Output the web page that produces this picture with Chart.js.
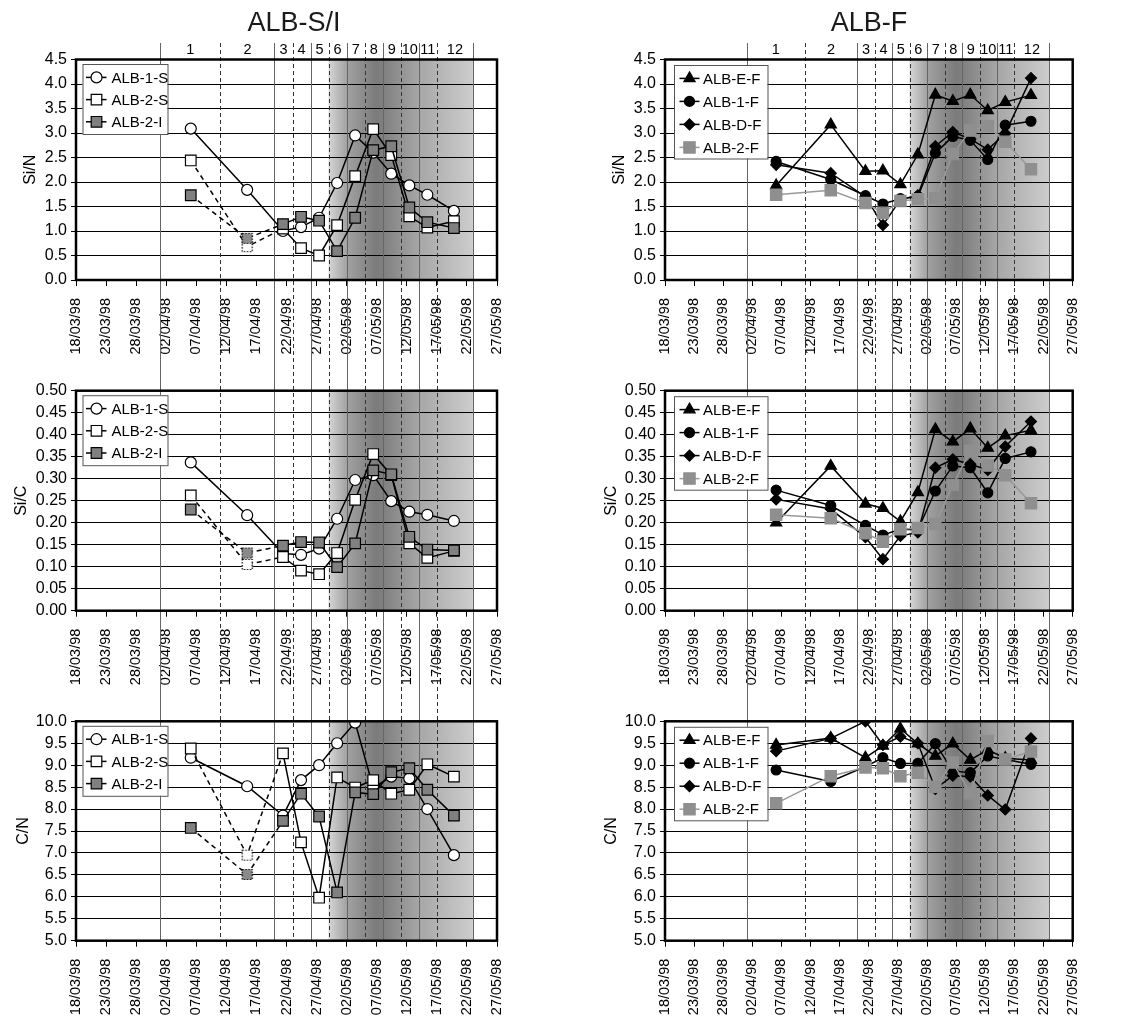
<!DOCTYPE html>
<html>
<head>
<meta charset="utf-8">
<title>ALB ratios</title>
<script src="https://cdn.jsdelivr.net/npm/chart.js@4.4.1/dist/chart.umd.min.js"></script>
<style>
  body { margin: 0; background: #fff; width: 1136px; height: 1023px; position: relative; overflow: hidden; }
  canvas { position: absolute; }
</style>
</head>
<body>
<canvas id="l1" width="560" height="365" style="left:0;top:0"></canvas>
<canvas id="l2" width="560" height="330" style="left:0;top:365px"></canvas>
<canvas id="l3" width="560" height="328" style="left:0;top:695px"></canvas>
<canvas id="r1" width="576" height="365" style="left:560px;top:0"></canvas>
<canvas id="r2" width="576" height="330" style="left:560px;top:365px"></canvas>
<canvas id="r3" width="576" height="328" style="left:560px;top:695px"></canvas>
<script>
// x axis runs from 18/03/98 to 27/05/98, ticks every 5 days
const DAY0 = Date.UTC(1998, 2, 18);
const xSpanDays = 70;
const xStepDays = 5;

// sampling times
const sampleDates = ['1998-04-06T02:00', '1998-04-15T11:00', '1998-04-21T10:00', '1998-04-24T10:00',
    '1998-04-27T10:00', '1998-04-30T10:00', '1998-05-03T10:00', '1998-05-06T10:00',
    '1998-05-09T10:00', '1998-05-12T10:00', '1998-05-15T10:00', '1998-05-19T20:00'];

// limits of the sampling periods (vertical lines) and their numbers
const periodBounds = ['1998-04-01T00:00', '1998-04-11T00:00', '1998-04-20T00:00', '1998-04-23T00:00',
    '1998-04-26T00:00', '1998-04-29T00:00', '1998-05-02T00:00', '1998-05-05T00:00',
    '1998-05-08T00:00', '1998-05-11T00:00', '1998-05-14T00:00', '1998-05-17T00:00', '1998-05-23T00:00'];
const periodLabels = ['1', '2', '3', '4', '5', '6', '7', '8', '9', '10', '11', '12'];

// ALB-S/I
const siN_ALB1S = [3.09, 1.84, 1.00, 1.08, 1.27, 1.98, 2.95, 2.60, 2.17, 1.93, 1.74, 1.41];
const siN_ALB2S = [2.44, 0.68, 1.05, 0.65, 0.50, 1.12, 2.12, 3.08, 2.55, 1.30, 1.07, 1.20];
const siN_ALB2I = [1.73, 0.85, 1.14, 1.29, 1.21, 0.59, 1.27, 2.65, 2.73, 1.48, 1.18, 1.06];

const siC_ALB1S = [0.337, 0.217, 0.130, 0.127, 0.141, 0.209, 0.297, 0.308, 0.249, 0.225, 0.218, 0.204];
const siC_ALB2S = [0.262, 0.105, 0.122, 0.091, 0.083, 0.131, 0.252, 0.356, 0.308, 0.153, 0.120, 0.136];
const siC_ALB2I = [0.230, 0.131, 0.148, 0.156, 0.155, 0.099, 0.153, 0.319, 0.310, 0.168, 0.139, 0.137];

const cN_ALB1S = [9.17, 8.52, 7.85, 8.66, 9.00, 9.50, 9.97, 8.49, 8.74, 8.70, 8.00, 6.95];
const cN_ALB2S = [9.38, 6.95, 9.27, 7.24, 5.98, 8.72, 8.49, 8.66, 8.35, 8.44, 9.02, 8.74];
const cN_ALB2I = [7.57, 6.51, 7.73, 8.35, 7.83, 6.10, 8.38, 8.34, 8.84, 8.93, 8.44, 7.85];

// ALB-F
const siN_ALBEF = [1.93, 3.17, 2.22, 2.23, 1.95, 2.56, 3.78, 3.65, 3.78, 3.46, 3.63, 3.77];
const siN_ALB1F = [2.42, 2.05, 1.72, 1.55, 1.66, 1.70, 2.59, 2.93, 2.85, 2.46, 3.16, 3.24];
const siN_ALBDF = [2.35, 2.18, 1.70, 1.12, 1.64, 1.73, 2.73, 3.02, 2.88, 2.66, 2.99, 4.12];
const siN_ALB2F = [1.74, 1.83, 1.57, 1.37, 1.61, 1.65, 1.67, 2.57, 3.05, 3.14, 2.82, 2.26];

const siC_ALBEF = [0.200, 0.329, 0.243, 0.233, 0.203, 0.269, 0.412, 0.384, 0.414, 0.370, 0.398, 0.410];
const siC_ALB1F = [0.274, 0.239, 0.194, 0.172, 0.185, 0.184, 0.272, 0.329, 0.325, 0.268, 0.346, 0.361];
const siC_ALBDF = [0.253, 0.231, 0.167, 0.117, 0.170, 0.178, 0.325, 0.344, 0.333, 0.320, 0.373, 0.430];
const siC_ALB2F = [0.218, 0.210, 0.176, 0.157, 0.185, 0.188, 0.197, 0.286, 0.363, 0.330, 0.308, 0.244];

const cN_ALBEF = [9.46, 9.62, 9.17, 9.44, 9.83, 9.49, 9.21, 9.49, 9.12, 9.35, 9.16, 9.12];
const cN_ALB1F = [8.89, 8.63, 8.97, 9.17, 9.04, 9.04, 9.49, 8.87, 8.83, 9.21, 9.13, 9.02];
const cN_ALBDF = [9.32, 9.61, 10.00, 9.46, 9.65, 9.50, 8.46, 8.76, 8.74, 8.31, 7.99, 9.61];
const cN_ALB2F = [8.13, 8.75, 8.95, 8.93, 8.75, 8.83, 8.51, 9.06, 8.36, 9.55, 9.13, 9.31];

const FONT = "'Liberation Sans', Arial, sans-serif";
Chart.defaults.font.family = FONT;
Chart.defaults.color = '#000';

function toDay(s) { return (Date.parse(s + 'Z') - DAY0) / 86400000; }
function fmtDate(day) {
    const d = new Date(DAY0 + Math.round(day) * 86400000);
    const dd = String(d.getUTCDate()).padStart(2, '0');
    const mm = String(d.getUTCMonth() + 1).padStart(2, '0');
    return dd + '/' + mm + '/98';
}

function dottedSquare(fill) {
    const c = document.createElement('canvas');
    c.width = 13; c.height = 13;
    const g = c.getContext('2d');
    g.fillStyle = fill;
    g.fillRect(1.5, 1.5, 10, 10);
    g.setLineDash([1.5, 1.5]);
    g.lineWidth = 1.2;
    g.strokeStyle = '#000';
    g.strokeRect(1.5, 1.5, 10, 10);
    return c;
}

const markStyle = {
    'ALB-1-S': { shape: 'circle', r: 5.5, fill: '#fff', edge: '#000', line: '#000' },
    'ALB-2-S': { shape: 'rect', r: 7.5, fill: '#fff', edge: '#000', line: '#000', dotted: dottedSquare('#fff') },
    'ALB-2-I': { shape: 'rect', r: 7.5, fill: '#808080', edge: '#000', line: '#000', dotted: dottedSquare('#8a8a8a') },
    'ALB-E-F': { shape: 'triangle', r: 6.5, fill: '#000', edge: '#000', line: '#000' },
    'ALB-1-F': { shape: 'circle', r: 5, fill: '#000', edge: '#000', line: '#000' },
    'ALB-D-F': { shape: 'rectRot', r: 5.5, fill: '#000', edge: '#000', line: '#000' },
    'ALB-2-F': { shape: 'rect', r: 8, fill: '#8f8f8f', edge: '#8f8f8f', line: '#999' }
};

const colLayout = {
    left: { yw: 76, padRight: 63, titleX: [31, 21.7, 23.3], heading: 'ALB-S/I', headX: 294,
        legend: { dx: 6.5, dy: 4.5, w: 85, h: 70, rowGap: 22.2, lineFrom: 3.5, lineTo: 24, markAt: 14, textAt: 29 } },
    right: { yw: 105, padRight: 63.3, titleX: [59.3, 51.7, 51.7], heading: 'ALB-F', headX: 309,
        legend: { dx: 9, dy: 5.5, w: 93.5, h: 93.5, rowGap: 23, lineFrom: 5.5, lineTo: 25.5, markAt: 15.5, textAt: 29 } }
};
const rowLayout = [
    { padTop: 59.5, xh: 85 },
    { padTop: 25.7, xh: 84.3 },
    { padTop: 26.3, xh: 82.3 }
];

function drawMark(ctx, st, x, y) {
    const r = st.r;
    ctx.save();
    ctx.beginPath();
    if (st.shape === 'circle') {
        ctx.arc(x, y, r, 0, Math.PI * 2);
    } else if (st.shape === 'rect') {
        const h = r * Math.SQRT1_2;
        ctx.rect(x - h, y - h, 2 * h, 2 * h);
    } else if (st.shape === 'triangle') {
        ctx.moveTo(x, y - r);
        ctx.lineTo(x + 0.866 * r, y + 0.5 * r);
        ctx.lineTo(x - 0.866 * r, y + 0.5 * r);
        ctx.closePath();
    } else {
        ctx.moveTo(x - r, y);
        ctx.lineTo(x, y - r);
        ctx.lineTo(x + r, y);
        ctx.lineTo(x, y + r);
        ctx.closePath();
    }
    ctx.fillStyle = st.fill;
    ctx.fill();
    ctx.lineWidth = 1.2;
    ctx.strokeStyle = st.edge;
    ctx.stroke();
    ctx.restore();
}

const decor = {
    id: 'decor',
    beforeDraw(chart) {
        // shaded period
        const { ctx, chartArea: a } = chart;
        const x = chart.scales.x;
        const x0 = x.getPixelForValue(toDay(periodBounds[5]));
        const x1 = x.getPixelForValue(toDay(periodBounds[12]));
        const g = ctx.createLinearGradient(x0, 0, x1, 0);
        g.addColorStop(0, '#d6d6d6');
        g.addColorStop(0.125, '#a2a2a2');
        g.addColorStop(0.25, '#8a8a8a');
        g.addColorStop(0.33, '#7b7b7b');
        g.addColorStop(0.4, '#828282');
        g.addColorStop(0.5, '#939393');
        g.addColorStop(0.625, '#a6a6a6');
        g.addColorStop(1, '#cdcdcd');
        ctx.save();
        ctx.fillStyle = g;
        ctx.fillRect(x0, a.top, x1 - x0, a.bottom - a.top);
        ctx.restore();
    },
    beforeDatasetsDraw(chart) {
        const { ctx, chartArea: a } = chart;
        const o = chart.config.options.plugins.decor;
        const x = chart.scales.x;
        const yTop = o.row === 0 ? 43 : 0;
        const yBot = o.row === 2 ? a.bottom : chart.height;
        ctx.save();
        periodBounds.forEach((d, i) => {
            const px = Math.round(x.getPixelForValue(toDay(d))) + 0.5;
            ctx.beginPath();
            ctx.setLineDash(i % 2 ? [4, 3] : []);
            ctx.strokeStyle = i % 2 ? '#333' : '#666';
            ctx.lineWidth = 1;
            ctx.moveTo(px, yTop);
            ctx.lineTo(px, yBot);
            ctx.stroke();
        });
        ctx.restore();
        if (o.row === 0) {
            ctx.save();
            ctx.fillStyle = '#000';
            ctx.font = '14.5px ' + FONT;
            ctx.textAlign = 'center';
            ctx.textBaseline = 'middle';
            periodLabels.forEach((t, i) => {
                const mid = (toDay(periodBounds[i]) + toDay(periodBounds[i + 1])) / 2;
                ctx.fillText(t, x.getPixelForValue(mid), 50);
            });
            ctx.fillStyle = '#1a1a1a';
            ctx.font = '27px ' + FONT;
            ctx.textBaseline = 'alphabetic';
            ctx.fillText(o.col.heading, o.col.headX, 31);
            ctx.restore();
        }
    },
    afterDraw(chart) {
        const { ctx, chartArea: a } = chart;
        const o = chart.config.options.plugins.decor;
        ctx.save();
        ctx.lineWidth = 2.5;
        ctx.strokeStyle = '#000';
        ctx.strokeRect(a.left, a.top, a.right - a.left, a.bottom - a.top);

        // legend box
        const L = o.col.legend;
        const bx = a.left + L.dx, by = a.top + L.dy;
        ctx.fillStyle = '#fff';
        ctx.fillRect(bx, by, L.w, L.h);
        ctx.lineWidth = 1;
        ctx.strokeStyle = '#555';
        ctx.strokeRect(bx + 0.5, by + 0.5, L.w, L.h);
        ctx.font = '15px ' + FONT;
        ctx.textBaseline = 'middle';
        chart.data.datasets.forEach((ds, i) => {
            const st = markStyle[ds.label];
            const ry = by + 13.4 + i * L.rowGap;
            ctx.beginPath();
            ctx.strokeStyle = st.line;
            ctx.lineWidth = 1.5;
            ctx.moveTo(bx + L.lineFrom, ry);
            ctx.lineTo(bx + L.lineTo, ry);
            ctx.stroke();
            drawMark(ctx, st, bx + L.markAt, ry);
            ctx.fillStyle = '#000';
            ctx.fillText(ds.label, bx + L.textAt, ry + 1);
        });
        ctx.restore();
    }
};

function buildChart(id, colKey, row, panel) {
    const col = colLayout[colKey];
    const R = rowLayout[row];
    const n = panel.series.length;
    const datasets = panel.series.map((s, i) => {
        const st = markStyle[s.label];
        const ds = {
            label: s.label,
            data: s.values.map((v, k) => ({ x: toDay(sampleDates[k]), y: v })),
            borderColor: st.line,
            borderWidth: 1.5,
            pointStyle: st.dotted ? (c => c.dataIndex === 1 ? st.dotted : st.shape) : st.shape,
            pointRadius: st.r,
            pointBackgroundColor: st.fill,
            pointBorderColor: st.edge,
            pointBorderWidth: 1.2,
            tension: 0,
            fill: false,
            order: n - i
        };
        if (st.dotted) {
            ds.segment = { borderDash: c => c.p0DataIndex < 2 ? [5, 4] : undefined };
        }
        return ds;
    });

    return new Chart(document.getElementById(id), {
        type: 'line',
        data: { datasets },
        options: {
            responsive: false,
            animation: false,
            events: [],
            layout: { padding: { top: R.padTop, right: col.padRight, left: 0, bottom: 0 } },
            plugins: {
                legend: { display: false },
                tooltip: { enabled: false },
                decor: { row: row, col: col }
            },
            scales: {
                x: {
                    type: 'linear',
                    min: 0,
                    max: xSpanDays,
                    afterFit: s => { s.height = R.xh; },
                    ticks: {
                        stepSize: xStepDays,
                        autoSkip: false,
                        minRotation: 90,
                        maxRotation: 90,
                        padding: 12,
                        color: '#000',
                        font: { size: 14.5 },
                        callback: v => fmtDate(v)
                    },
                    grid: { drawOnChartArea: false, color: '#000', tickLength: 6, lineWidth: 1 },
                    border: { display: false }
                },
                y: {
                    min: panel.yMin,
                    max: panel.yMax,
                    afterFit: s => { s.width = col.yw; },
                    ticks: {
                        stepSize: panel.yStep,
                        autoSkip: false,
                        maxTicksLimit: 20,
                        color: '#000',
                        padding: 4,
                        font: { size: 16, lineHeight: 1 },
                        callback: v => v.toFixed(panel.dec)
                    },
                    grid: { color: '#000', tickLength: 5, lineWidth: 1 },
                    border: { display: false },
                    title: {
                        display: true,
                        text: panel.yTitle,
                        color: '#000',
                        font: { size: 16 },
                        padding: { top: col.titleX[row] - 9.6, bottom: 0 }
                    }
                }
            }
        },
        plugins: [decor]
    });
}

buildChart('l1', 'left', 0, { yMin: 0, yMax: 4.5, yStep: 0.5, dec: 1, yTitle: 'Si/N',
    series: [{ label: 'ALB-1-S', values: siN_ALB1S }, { label: 'ALB-2-S', values: siN_ALB2S }, { label: 'ALB-2-I', values: siN_ALB2I }] });
buildChart('l2', 'left', 1, { yMin: 0, yMax: 0.5, yStep: 0.05, dec: 2, yTitle: 'Si/C',
    series: [{ label: 'ALB-1-S', values: siC_ALB1S }, { label: 'ALB-2-S', values: siC_ALB2S }, { label: 'ALB-2-I', values: siC_ALB2I }] });
buildChart('l3', 'left', 2, { yMin: 5, yMax: 10, yStep: 0.5, dec: 1, yTitle: 'C/N',
    series: [{ label: 'ALB-1-S', values: cN_ALB1S }, { label: 'ALB-2-S', values: cN_ALB2S }, { label: 'ALB-2-I', values: cN_ALB2I }] });

buildChart('r1', 'right', 0, { yMin: 0, yMax: 4.5, yStep: 0.5, dec: 1, yTitle: 'Si/N',
    series: [{ label: 'ALB-E-F', values: siN_ALBEF }, { label: 'ALB-1-F', values: siN_ALB1F },
        { label: 'ALB-D-F', values: siN_ALBDF }, { label: 'ALB-2-F', values: siN_ALB2F }] });
buildChart('r2', 'right', 1, { yMin: 0, yMax: 0.5, yStep: 0.05, dec: 2, yTitle: 'Si/C',
    series: [{ label: 'ALB-E-F', values: siC_ALBEF }, { label: 'ALB-1-F', values: siC_ALB1F },
        { label: 'ALB-D-F', values: siC_ALBDF }, { label: 'ALB-2-F', values: siC_ALB2F }] });
buildChart('r3', 'right', 2, { yMin: 5, yMax: 10, yStep: 0.5, dec: 1, yTitle: 'C/N',
    series: [{ label: 'ALB-E-F', values: cN_ALBEF }, { label: 'ALB-1-F', values: cN_ALB1F },
        { label: 'ALB-D-F', values: cN_ALBDF }, { label: 'ALB-2-F', values: cN_ALB2F }] });
</script>
</body>
</html>
